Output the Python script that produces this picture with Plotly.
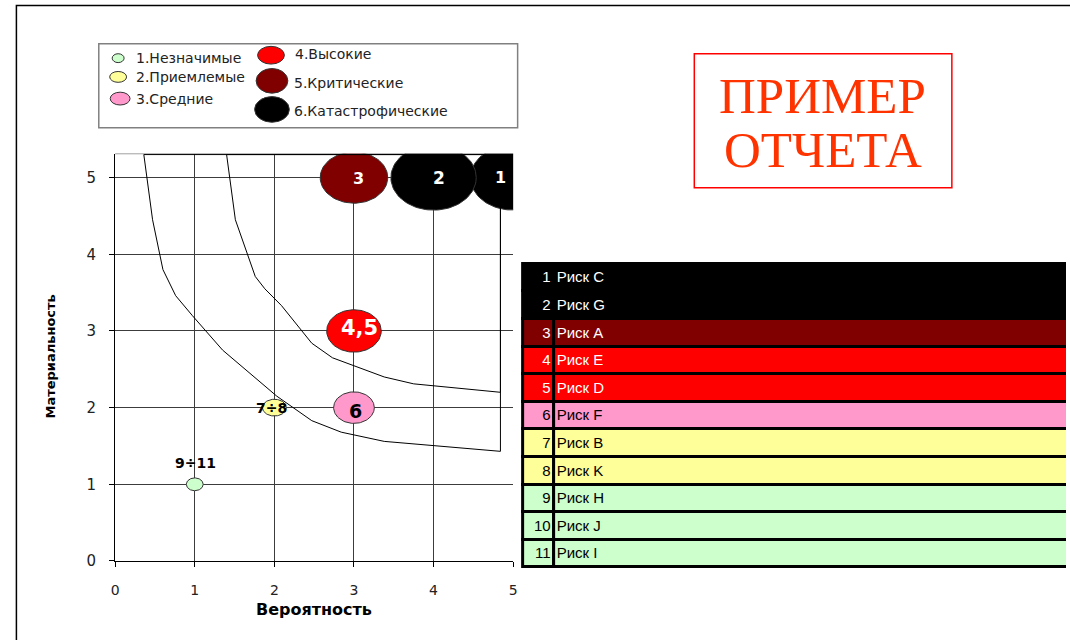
import numpy as np
import plotly.graph_objects as go

# ------------------------------------------------------------------ data
risk_ids = [1, 2, 3, 4, 5, 6, 7, 8, 9, 10, 11]
risk_names = ["Риск C", "Риск G", "Риск A", "Риск E", "Риск D", "Риск F",
              "Риск B", "Риск K", "Риск H", "Риск J", "Риск I"]
risk_levels = [6, 6, 5, 4, 4, 3, 2, 2, 1, 1, 1]

bubble_labels = ["1", "2", "3", "4,5", "6", "7÷8", "9÷11"]
bubble_prob = [5, 4, 3, 3, 3, 2, 1]
bubble_mat = [5, 5, 5, 3, 2, 2, 1]
bubble_levels = [6, 6, 5, 4, 3, 2, 1]

level_ids = [1, 2, 3, 4, 5, 6]
level_names = ["1.Незначимые", "2.Приемлемые", "3.Средние",
               "4.Высокие", "5.Критические", "6.Катастрофические"]

# hand-drawn zone borders (axis units)
zone1_x = [0.36, 0.47, 0.60, 0.76, 0.97, 1.35, 2.03, 2.47, 2.84, 3.38, 4.84]
zone1_y = [5.30, 4.45, 3.80, 3.46, 3.20, 2.75, 2.15, 1.83, 1.68, 1.56, 1.43]
zone2_x = [1.40, 1.51, 1.76, 1.88, 2.09, 2.47, 2.73, 3.38, 3.75, 4.84]
zone2_y = [5.30, 4.45, 3.71, 3.55, 3.33, 2.84, 2.65, 2.40, 2.31, 2.20]

x_ticks = [0, 1, 2, 3, 4, 5]
y_ticks = [0, 1, 2, 3, 4, 5]
x_title = "Вероятность"
y_title = "Материальность"
stamp_lines = ["ПРИМЕР", "ОТЧЕТА"]

# ------------------------------------------------------------------ styles
W, H = 1070, 640
PL, PR, PT, PB = 112, 513, 156, 569
X_MAX, Y_MAX = 5, 5.31
PX_X = (PR - PL) / X_MAX
PX_Y = (PB - PT) / Y_MAX

level_colors = {1: "#CCFFCC", 2: "#FFFF99", 3: "#FF99CC",
                4: "#FF0000", 5: "#800000", 6: "#000000"}
bubble_px = {1: (17, 13), 2: (24, 17), 3: (41, 32), 4: (55, 43), 5: (68, 52), 6: (86, 66)}
legend_px = {1: (12, 9), 2: (17, 11), 3: (20, 13), 4: (27, 18), 5: (32, 25), 6: (35, 26)}
legend_marker_pos = {1: (115, 59), 2: (115, 78), 3: (117, 100),
                     4: (269, 56), 5: (270, 82), 6: (270, 111)}
legend_text_pos = {1: (131, 59), 2: (131, 78), 3: (131, 100),
                   4: (291, 55), 5: (290, 84), 6: (290, 113)}
# label style: (color, size, xshift, yshift)
label_style = {"1": ("white", 16, -13, 0), "2": ("white", 17, 5, 0), "3": ("white", 16, 5, -1),
               "4,5": ("white", 21, 6, 3), "6": ("black", 19, 2, -3),
               "7÷8": ("black", 14, -3, 0), "9÷11": ("black", 14, 1, 21)}

SANS = "DejaVu Sans, Arial, sans-serif"
TABLE_FONT = "Liberation Sans Narrow, Arial Narrow, Liberation Sans, Arial, sans-serif"
SERIF = "Liberation Serif, Times New Roman, serif"


def P(px, py):
    return px / W, 1 - py / H


fig = go.Figure()

# bubbles (ellipses, as in the original Excel chart)
t = np.linspace(0, 2 * np.pi, 97)
for lab, bx, by, lv in zip(bubble_labels, bubble_prob, bubble_mat, bubble_levels):
    w, h = bubble_px[lv]
    rx, ry = w / 2 / PX_X, h / 2 / PX_Y
    fig.add_trace(go.Scatter(
        x=bx + rx * np.cos(t), y=by + ry * np.sin(t), mode="lines",
        fill="toself", fillcolor=level_colors[lv],
        line=dict(color="#333333", width=1), hoverinfo="skip", showlegend=False,
        xaxis="x", yaxis="y"))

# zone borders
for zx, zy in ((zone1_x, zone1_y), (zone2_x, zone2_y)):
    fig.add_trace(go.Scatter(
        x=zx + [zx[-1], zx[0]], y=zy + [zy[0], zy[0]], mode="lines",
        line=dict(color="black", width=1), hoverinfo="skip", showlegend=False,
        xaxis="x", yaxis="y"))

# bubble labels
annotations = []
for lab, bx, by in zip(bubble_labels, bubble_prob, bubble_mat):
    col, size, xs, ys = label_style[lab]
    annotations.append(dict(x=bx, y=by, xref="x", yref="y", text=f"<b>{lab}</b>",
                            showarrow=False, xshift=xs, yshift=ys,
                            xanchor="center", yanchor="middle",
                            font=dict(family=SANS, size=size, color=col)))

# ------------------------------------------------------------------ table (bars)
txt_colors = ["white" if lv >= 4 else "black" for lv in risk_levels]
row_colors = [level_colors[lv] for lv in risk_levels]
NUM_BASE, NUM_W = 5.5, 31
NAME_BASE, NAME_W = 36.5, 560
fig.add_trace(go.Bar(
    orientation="h", y=risk_ids, x=[NUM_W] * len(risk_ids), base=NUM_BASE, width=1,
    marker=dict(color=row_colors, line=dict(color="black", width=3)),
    text=[str(i) for i in risk_ids], textposition="inside", insidetextanchor="end",
    textfont=dict(family=TABLE_FONT, size=15, color=txt_colors), textangle=0,
    hoverinfo="skip", showlegend=False, xaxis="x2", yaxis="y2"))
fig.add_trace(go.Bar(
    orientation="h", y=risk_ids, x=[NAME_W] * len(risk_ids), base=NAME_BASE, width=1,
    marker=dict(color=row_colors, line=dict(color="black", width=3)),
    text=risk_names, textposition="inside", insidetextanchor="start",
    textfont=dict(family=TABLE_FONT, size=15, color=txt_colors), textangle=0,
    hoverinfo="skip", showlegend=False, xaxis="x2", yaxis="y2"))

# ------------------------------------------------------------------ shapes
shapes = []
# outer frame
shapes.append(dict(type="rect", xref="paper", yref="paper",
                   x0=12.5 / W, y0=-0.05, x1=1.05, y1=1 - 5.5 / H,
                   line=dict(color="black", width=1.5)))
# plot area top border
shapes.append(dict(type="line", xref="x domain", yref="y domain", x0=0, x1=1, y0=1, y1=1,
                   line=dict(color="#a0a0a0", width=1), layer="below"))
# legend box
x0, y0 = P(95.5, 44.5)
x1, y1 = P(517.5, 129.5)
shapes.append(dict(type="rect", xref="paper", yref="paper", x0=x0, y0=y1, x1=x1, y1=y0,
                   line=dict(color="#808080", width=1.5), fillcolor="white"))
for lv, name in zip(level_ids, level_names):
    cx, cy = legend_marker_pos[lv]
    w, h = legend_px[lv]
    a0, b0 = P(cx - w / 2, cy + h / 2)
    a1, b1 = P(cx + w / 2, cy - h / 2)
    shapes.append(dict(type="circle", xref="paper", yref="paper", x0=a0, y0=b0, x1=a1, y1=b1,
                       fillcolor=level_colors[lv], line=dict(color="#333333", width=1)))
    tx, ty = P(*legend_text_pos[lv])
    annotations.append(dict(x=tx, y=ty, xref="paper", yref="paper", text=name,
                            showarrow=False, xanchor="left", yanchor="middle",
                            font=dict(family=SANS, size=14, color="#222222")))
# stamp
sx0, sy0 = P(695.5, 54.5)
sx1, sy1 = P(955, 190.5)
shapes.append(dict(type="rect", xref="paper", yref="paper", x0=sx0, y0=sy1, x1=sx1, y1=sy0,
                   line=dict(color="#FF0000", width=1.5)))
for line_txt, py in zip(stamp_lines, [97, 152]):
    tx, ty = P(825, py)
    annotations.append(dict(x=tx, y=ty, xref="paper", yref="paper", text=line_txt,
                            showarrow=False, xanchor="center", yanchor="middle",
                            font=dict(family=SERIF, size=51, color="#FF3300")))

# axis titles
tx, ty = P(312, 618)
annotations.append(dict(x=tx, y=ty, xref="paper", yref="paper", text=f"<b>{x_title}</b>",
                        showarrow=False, xanchor="center", yanchor="middle",
                        font=dict(family=SANS, size=16, color="black")))
tx, ty = P(47, 362)
annotations.append(dict(x=tx, y=ty, xref="paper", yref="paper", text=f"<b>{y_title}</b>",
                        showarrow=False, textangle=-90, xanchor="center", yanchor="middle",
                        font=dict(family=SANS, size=13, color="black")))

axis_common = dict(showgrid=True, gridcolor="#3c3c3c", gridwidth=1, zeroline=False,
                   showline=True, linecolor="black", linewidth=1,
                   ticks="outside", ticklen=5, tickcolor="black", tickwidth=1,
                   fixedrange=True)

fig.update_layout(
    width=W, height=H, autosize=False,
    margin=dict(l=0, r=0, t=0, b=0),
    paper_bgcolor="white", plot_bgcolor="white",
    showlegend=False, barmode="overlay", bargap=0,
    xaxis=dict(domain=[PL / W, PR / W], range=[0, X_MAX], tickvals=x_ticks,
               ticklabelstandoff=11, anchor="y",
               tickfont=dict(family=SANS, size=14, color="#222222"), **axis_common),
    yaxis=dict(domain=[1 - PB / H, 1 - PT / H], range=[0, Y_MAX], tickvals=y_ticks,
               ticklabelstandoff=10, anchor="x",
               tickfont=dict(family=SANS, size=15, color="#222222"), **axis_common),
    xaxis2=dict(domain=[518 / W, 1], range=[0, 552], visible=False, fixedrange=True,
                anchor="y2"),
    yaxis2=dict(domain=[1 - 578.3 / H, 1 - 264.7 / H], range=[11.6, 0.4], visible=False,
                fixedrange=True, anchor="x2"),
    shapes=shapes, annotations=annotations,
)

PAGE_FIX = ("var s='margin:0;padding:0;overflow:hidden;';"
            "document.documentElement.style.cssText=s;document.body.style.cssText=s;")
fig.write_html("out.html", config={"displayModeBar": False}, post_script=PAGE_FIX)
